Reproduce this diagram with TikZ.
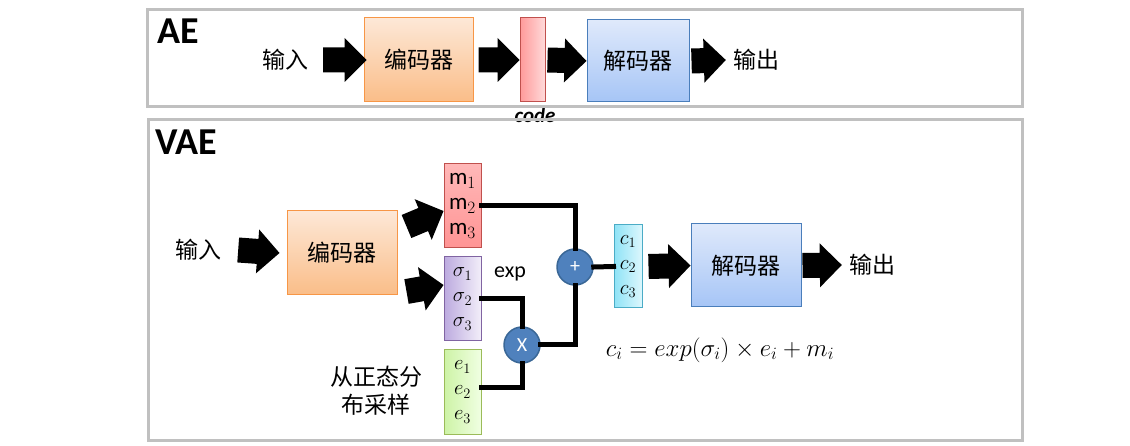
\documentclass[tikz,border=0pt]{standalone}
\usepackage{fontspec}
\setmainfont{Carlito}
\newfontfamily\cjk{Noto Sans CJK SC}
\usetikzlibrary{calc}
\definecolor{framegray}{HTML}{C0C0C0}
\definecolor{opblue}{HTML}{4F81BD}
\definecolor{opedge}{HTML}{3A6796}
\definecolor{enctop}{HTML}{FDE8D7}
\definecolor{encbot}{HTML}{FABD88}
\definecolor{encedge}{HTML}{F79646}
\definecolor{dectop}{HTML}{DFE9FB}
\definecolor{decbot}{HTML}{A6C5F6}
\definecolor{decedge}{HTML}{4A7EBB}
\definecolor{redl}{HTML}{FF9A9A}
\definecolor{redr}{HTML}{FFDADA}
\definecolor{rededge}{HTML}{C0504D}
\definecolor{purl}{HTML}{BCAADF}
\definecolor{purr}{HTML}{F2EEF9}
\definecolor{puredge}{HTML}{8064A2}
\definecolor{grnl}{HTML}{CDF3A6}
\definecolor{grnr}{HTML}{F0FFE2}
\definecolor{grnedge}{HTML}{9BBB59}
\definecolor{cyanl}{HTML}{8FE3F6}
\definecolor{cyanr}{HTML}{DDF7FD}
\definecolor{cyanedge}{HTML}{4BACC6}

% block arrow from #1 to #2
\newcommand\bigarrow[2]{%
  \path (#1) coordinate (ba-s) (#2) coordinate (ba-e);
  \coordinate (ba-h) at ($(ba-e)!22pt!(ba-s)$);
  \fill ($(ba-s)!12.5pt!90:(ba-e)$) -- ($(ba-h)!12.5pt!-90:(ba-s)$)
    -- ($(ba-h)!22pt!-90:(ba-s)$) -- (ba-e) -- ($(ba-h)!22pt!90:(ba-s)$)
    -- ($(ba-h)!12.5pt!90:(ba-s)$) -- ($(ba-s)!12.5pt!-90:(ba-e)$) -- cycle;}

\begin{document}
\begin{tikzpicture}[x=1pt,y=-1pt,
    box/.style={draw,rectangle,inner sep=0pt,line width=1pt},
    encbox/.style={box,draw=encedge,top color=enctop,bottom color=encbot,
        minimum width=110pt,minimum height=84pt},
    decbox/.style={box,draw=decedge,top color=dectop,bottom color=decbot,
        minimum width=110pt,minimum height=83pt},
    vec/.style={box,minimum width=37pt,minimum height=84pt,align=center,
        font=\fontsize{22}{25}\selectfont},
    wire/.style={line width=5pt,line cap=rect},
    op/.style={circle,fill=opblue,draw=opedge,line width=1.5pt,minimum size=36pt,inner sep=0pt,
        text=white,font=\fontsize{20}{20}\selectfont},
    frame/.style={draw=framegray,line width=3pt},
    zh/.style={inner sep=0pt,font=\cjk\fontsize{23}{28}\selectfont}]
\useasboundingbox (0,0) rectangle (1130,446);

% AE
\node[anchor=base west,inner sep=0pt,font=\bfseries\fontsize{38}{38}\selectfont] (aetitle) at (157,44) {AE};
\node[zh] (in1) at (285,60) {输入};
\node[encbox,minimum width=109pt] (enc1) at (418.5,60) {\cjk\fontsize{23}{28}\selectfont 编码器};
\node[box,draw=rededge,left color=redl,right color=redr,
    minimum width=25pt,minimum height=84pt] (code) at (532.5,60) {};
\node[inner sep=0pt,font=\bfseries\itshape\fontsize{21}{21}\selectfont] (codelab) at (535,115) {code};
\node[decbox,minimum width=102pt,minimum height=82pt] (dec1) at (638,61) {\cjk\fontsize{23}{28}\selectfont 解码器};
\node[zh] (out1) at (756,60) {输出};

\bigarrow{[xshift=15]in1.east}{[xshift=3]enc1.west}
\bigarrow{[xshift=5]enc1.east}{code.west}
\bigarrow{[xshift=2]code.east}{dec1.west}
\bigarrow{[xshift=2]dec1.east}{[xshift=-7]out1.west}

% VAE
\node[anchor=base west,inner sep=0pt,font=\bfseries\fontsize{38}{38}\selectfont] (vaetitle) at (155,155) {VAE};
\node[zh] (in2) at (198,250) {输入};
\node[encbox] (enc2) at (342,253) {\cjk\fontsize{23}{28}\selectfont 编码器};

\node[vec,draw=rededge,top color=red!28,bottom color=red!42,font=\fontsize{23}{25}\selectfont]
    (mbox) at (462.5,206) {m$_1$\\m$_2$\\m$_3$};
\node[vec,draw=puredge,left color=purl,right color=purr] (sbox) at (462.5,299)
    {$\sigma_1$\\$\sigma_2$\\$\sigma_3$};
\node[vec,draw=grnedge,left color=grnl,right color=grnr] (ebox) at (462.5,392)
    {$e_1$\\$e_2$\\$e_3$};
\node[zh,align=center] (sample) at (376,391) {从正态分\\布采样};
\node[inner sep=0pt,font=\fontsize{22}{22}\selectfont] (explab) at (510,274) {exp};

\node[op] (times) at (522,345) {X};
\node[op] (plus) at (575,267) {+};
\node[vec,draw=cyanedge,left color=cyanl,right color=cyanr,
    minimum width=28pt,minimum height=83pt] (cbox) at (628,266.5) {$c_1$\\$c_2$\\$c_3$};
\node[decbox] (dec2) at (746,265.5) {\cjk\fontsize{23}{28}\selectfont 解码器};
\node[zh] (out2) at (872,265) {输出};
\node[inner sep=0pt,font=\fontsize{24}{24}\selectfont] (formula) at (720,350)
    {$c_i = exp(\sigma_i) \times e_i + m_i$};

\bigarrow{[xshift=17]in2.east}{[xshift=-7]enc2.west}
\bigarrow{[shift={(9,16)}]enc2.north east}{[yshift=-5]mbox.west}
\bigarrow{[shift={(9,-4)}]enc2.south east}{[yshift=14]sbox.west}
\bigarrow{[xshift=6]cbox.east}{dec2.west}
\bigarrow{[xshift=1]dec2.east}{[xshift=-7]out2.west}

\draw[wire] (mbox.east) -| (plus.north);
\draw[wire] (sbox.east) -| (times.north);
\draw[wire] ([yshift=5]ebox.east) -| (times.south);
\draw[wire] (times.east) -| (plus.south);
\draw[wire] (plus.east) -- (cbox.west);

% frames
\draw[frame] (147,10) rectangle (1022,107);
\draw[frame] (148,120) rectangle (1022,440);
\end{tikzpicture}
\end{document}
